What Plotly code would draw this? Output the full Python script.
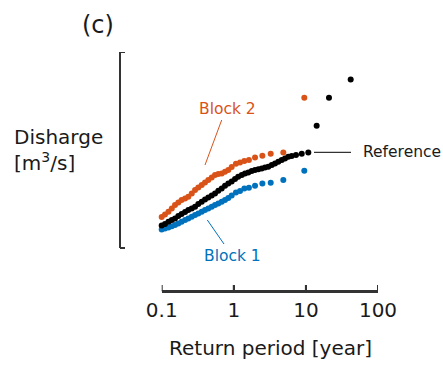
import plotly.graph_objects as go

# Return period [year] and discharge (arbitrary units)
ref_T = [0.100, 0.111, 0.124, 0.138, 0.153, 0.170, 0.189, 0.211, 0.234, 0.261,
         0.290, 0.322, 0.359, 0.399, 0.443, 0.494, 0.549, 0.610, 0.680, 0.755,
         0.839, 0.935, 1.04, 1.15, 1.29, 1.43, 1.59, 1.77, 1.97, 2.19,
         2.44, 2.71, 3.01, 3.36, 3.73, 4.14, 4.62, 5.13, 5.70, 6.35,
         7.29, 8.75, 10.8, 14.1, 20.9, 41.8]
ref_Q = [212, 220, 231, 240, 248, 260, 270, 280, 290, 298,
         306, 320, 331, 342, 353, 363, 373, 386, 398, 411,
         423, 433, 445, 456, 465, 472, 478, 485, 490, 494,
         498, 502, 506, 515, 523, 531, 540, 548, 556, 560,
         565, 571, 578, 711, 851, 943]

b2_T = [0.100, 0.111, 0.124, 0.138, 0.153, 0.170, 0.189, 0.211, 0.234, 0.261,
        0.290, 0.322, 0.359, 0.399, 0.443, 0.494, 0.549, 0.610, 0.680, 0.755,
        0.839, 0.935, 1.07, 1.22, 1.40, 1.62, 1.97, 2.49, 3.25, 4.86, 9.5]
b2_Q = [255, 267, 281, 297, 315, 327, 340, 348, 356, 373,
        390, 402, 415, 427, 440, 452, 465, 470, 473, 481,
        490, 505, 521, 527, 535, 540, 553, 561, 571, 578, 851]

b1_T = [0.100, 0.111, 0.124, 0.138, 0.153, 0.170, 0.189, 0.211, 0.234, 0.261,
        0.290, 0.322, 0.359, 0.399, 0.443, 0.494, 0.549, 0.610, 0.680, 0.755,
        0.839, 0.935, 1.07, 1.22, 1.40, 1.62, 1.97, 2.49, 3.25, 4.86, 9.5]
b1_Q = [192, 197, 203, 209, 215, 223, 231, 240, 248, 256,
        265, 273, 281, 290, 298, 306, 315, 323, 331, 340,
        350, 362, 378, 385, 398, 401, 411, 423, 426, 440, 486]

x_ticks = [0.1, 1, 10, 100]
x_tick_labels = ["0.1", "1", "10", "100"]
x_log_range = [-1, 2]   # 0.1 .. 100
q_range = [100, 1080]   # extent of the y bracket

ORANGE = "#D95319"
BLUE = "#0072BD"
BLACK = "#000000"
TXT = "#1a1a1a"
AXC = "#333333"
FONT = "DejaVu Sans"

W, H = 443, 367
X_LEFT, X_RIGHT = 161.7, 378      # x axis extent (0.1 .. 100)
X_AXIS_Y = 291                    # x axis line
Y_TOP, Y_BOT = 52, 248            # y bracket extent
Y_AXIS_X = 120                    # y bracket line
Y_TICK_LEN = 5
X_TICK_LEN = 6


def px(x):
    return x / W


def py(y):
    return (H - y) / H


units_per_px = (q_range[1] - q_range[0]) / (Y_BOT - Y_TOP)
y_range = [q_range[0] - (X_AXIS_Y - Y_BOT) * units_per_px, q_range[1]]

fig = go.Figure()
for T, Q, c in [(b1_T, b1_Q, BLUE), (b2_T, b2_Q, ORANGE), (ref_T, ref_Q, BLACK)]:
    fig.add_trace(go.Scatter(x=T, y=Q, mode="markers", cliponaxis=False,
                             marker=dict(size=6, color=c, line=dict(width=0)),
                             showlegend=False, hoverinfo="skip"))

fig.update_layout(
    width=W, height=H,
    margin=dict(l=0, r=0, t=0, b=0, pad=0, autoexpand=False),
    paper_bgcolor="white", plot_bgcolor="white",
    font=dict(family=FONT, color=TXT),
    xaxis=dict(type="log", range=x_log_range, domain=[px(X_LEFT), px(X_RIGHT)],
               automargin=False,
               showline=True, linecolor=AXC, linewidth=2,
               ticks="inside", ticklen=X_TICK_LEN, tickwidth=2, tickcolor=AXC,
               tickvals=x_ticks, ticktext=x_tick_labels,
               tickfont=dict(size=20, family=FONT, color=TXT),
               showgrid=False, zeroline=False),
    yaxis=dict(range=y_range, domain=[py(X_AXIS_Y), py(Y_TOP)],
               visible=False, automargin=False,
               showgrid=False, zeroline=False),
)

# x axis line and ticks, drawn in axis coordinates (bottom edge of the plot)
fig.add_shape(type="line", xref="x", yref="paper",
              x0=x_ticks[0], x1=x_ticks[-1], y0=py(X_AXIS_Y), y1=py(X_AXIS_Y),
              line=dict(color=AXC, width=2))
for tv in x_ticks:
    fig.add_shape(type="line", xref="x", yref="paper", x0=tv, x1=tv,
                  y0=py(X_AXIS_Y), y1=py(X_AXIS_Y - X_TICK_LEN),
                  line=dict(color=AXC, width=2))

# y bracket: vertical line between the two ends of q_range, with short end ticks
bx = px(Y_AXIS_X)
btx = px(Y_AXIS_X + Y_TICK_LEN)
fig.add_shape(type="line", xref="paper", yref="y", x0=bx, x1=bx,
              y0=q_range[0], y1=q_range[1], line=dict(color=AXC, width=2))
for qv in q_range:
    fig.add_shape(type="line", xref="paper", yref="y", x0=bx, x1=btx,
                  y0=qv, y1=qv, line=dict(color=AXC, width=2))

ann = [
    dict(text="(c)", x=px(98), y=py(25), size=24, color=TXT, xa="center"),
    dict(text="Disharge<br>[m<sup>3</sup>/s]", x=px(12), y=py(150), size=20,
         color=TXT, xa="left"),
    dict(text="Return period [year]", x=px(270.5), y=py(348), size=20,
         color=TXT, xa="center"),
    dict(text="Block 2", x=px(227.7), y=py(109.3), size=15.5, color=ORANGE, xa="center"),
    dict(text="Block 1", x=px(233), y=py(255.7), size=15.5, color=BLUE, xa="center"),
    dict(text="Reference", x=px(360.7), y=py(152), size=15.5, color=TXT, xa="left"),
]
for a in ann:
    fig.add_annotation(text=a["text"], x=a["x"], y=a["y"], xref="paper", yref="paper",
                       xanchor=a["xa"], yanchor="middle", align="left", showarrow=False,
                       font=dict(family=FONT, size=a["size"], color=a["color"]))

lines = [
    ((221.7, 120), (205, 165), ORANGE),
    ((207.3, 220), (224, 244), BLUE),
    ((314, 152.3), (351, 152.3), BLACK),
]
for (x0, y0), (x1, y1), c in lines:
    fig.add_shape(type="line", xref="paper", yref="paper",
                  x0=px(x0), y0=py(y0), x1=px(x1), y1=py(y1),
                  line=dict(color=c, width=1))

fig.write_html("out.html")
